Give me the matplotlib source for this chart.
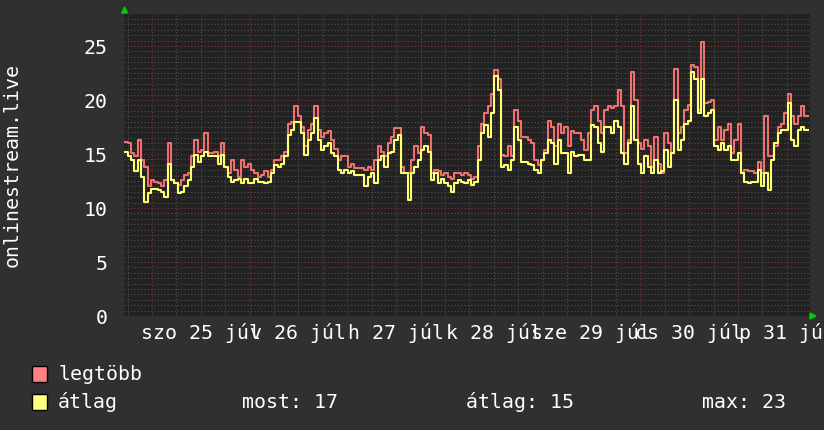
import numpy as np
import matplotlib
matplotlib.use("Agg")
import matplotlib.pyplot as plt
from matplotlib.patches import Rectangle

# samples every ~49 minutes, first one at about 17:15 on jul 24 (hours from jul 25 00:00)
t0_hours = -6.76
step_hours = 0.819

legtobb = [
    16.1, 16.0, 15.1, 14.8, 16.3, 14.4, 13.8, 12.0, 12.6, 12.4, 12.3, 12.0, 12.6, 16.0, 12.6, 12.3,
    12.1, 12.6, 13.1, 13.2, 14.8, 16.3, 15.2, 15.4, 16.9, 15.1, 15.1, 15.2, 14.8, 16.0, 13.8, 13.2,
    14.4, 13.5, 12.9, 14.4, 13.8, 14.1, 13.5, 13.2, 12.9, 13.1, 13.4, 12.9, 13.5, 14.4, 14.4, 14.8,
    15.2, 17.8, 18.0, 19.4, 18.5, 17.5, 15.7, 17.2, 17.8, 19.4, 17.2, 16.6, 16.9, 17.1, 16.3, 15.5,
    14.4, 14.8, 14.8, 13.8, 14.1, 13.7, 13.7, 13.7, 13.5, 13.8, 13.5, 14.4, 15.7, 15.2, 14.8, 16.0,
    16.6, 17.4, 17.4, 13.8, 13.2, 13.2, 14.4, 15.7, 15.1,
    17.5, 16.9, 16.8, 13.2, 13.5, 13.4, 13.1, 13.2, 12.9, 12.7, 13.2, 13.2, 13.1, 13.2, 13.1, 12.7,
    12.9, 15.7, 17.8, 18.8, 19.4, 20.6, 22.8, 21.9, 14.9, 14.8, 15.7, 14.8, 19.1, 18.1, 16.6, 16.6,
    16.3, 16.0, 14.4, 14.0, 14.4, 15.4, 18.1, 17.5, 15.7, 17.8, 16.9, 17.5, 15.7, 17.1, 16.9, 16.9,
    16.3, 15.4, 16.9, 19.1, 19.4, 18.1, 16.9, 19.1, 19.4, 19.3, 19.4, 20.9, 19.4, 15.1, 16.3, 22.6,
    20.0, 16.0, 15.5, 16.3, 15.7, 13.8, 16.6, 14.1, 13.2, 16.9, 16.0, 15.1, 22.9, 16.9, 17.5, 19.1,
    19.5, 23.2, 23.1, 19.1, 25.4, 19.7, 19.8, 20.0, 16.3, 17.5, 16.3, 17.2, 17.8, 15.1, 16.3, 17.8,
    13.2, 13.5, 13.4, 13.4, 13.2, 14.3, 13.2, 18.5, 14.8, 14.8, 15.7, 17.5, 17.8, 18.8, 20.6, 18.5,
    17.8, 18.5, 19.4, 18.5,
]
atlag = [
    15.2, 14.8, 14.4, 13.4, 14.4, 12.9, 10.6, 11.4, 11.8, 11.8, 11.7, 11.5, 11.0, 14.1, 12.6, 12.3,
    11.4, 11.5, 12.0, 12.6, 13.8, 14.9, 14.3, 14.8, 15.2, 14.8, 14.8, 14.8, 14.1, 14.9, 13.8, 12.9,
    12.4, 12.6, 12.7, 12.3, 12.7, 12.3, 12.3, 12.7, 12.4, 12.4, 12.3, 12.4, 13.2, 14.0, 13.8, 14.1,
    14.8, 16.8, 17.2, 18.0, 18.0, 16.9, 14.9, 16.3, 16.9, 18.3, 16.3, 15.4, 15.7, 16.0, 15.1, 14.8,
    13.5, 13.2, 13.5, 13.2, 13.4, 13.1, 13.1, 13.1, 12.0, 12.9, 13.2, 12.3, 14.4, 14.8, 13.8, 15.1,
    15.2, 16.3, 16.8, 13.2, 13.2, 10.7, 13.2, 13.8, 14.4,
    15.4, 15.7, 15.2, 12.6, 13.2, 12.3, 12.7, 12.3, 12.0, 11.5, 12.3, 12.6, 12.4, 12.3, 12.6, 12.1,
    12.4, 14.4, 16.9, 17.7, 16.6, 18.8, 22.2, 20.9, 13.8, 14.0, 13.5, 14.4, 17.5, 16.3, 14.3, 14.3,
    14.1, 14.0, 13.5, 13.2, 14.4, 15.1, 16.3, 16.0, 14.1, 16.3, 15.1, 15.1, 13.2, 15.2, 14.8, 14.9,
    14.9, 14.4, 14.4, 17.7, 17.5, 16.0, 15.2, 17.5, 17.5, 16.9, 18.1, 17.5, 15.1, 14.1, 16.0, 19.4,
    16.3, 14.1, 13.2, 14.8, 13.8, 13.2, 14.4, 13.2, 13.4, 15.4, 13.8, 15.1, 20.0, 15.4, 16.3, 17.8,
    18.1, 22.6, 21.9, 18.8, 21.9, 18.5, 18.8, 19.1, 15.7, 15.4, 16.0, 15.4, 15.7, 14.4, 14.4, 15.1,
    13.2, 12.4, 12.3, 12.4, 12.4, 13.5, 12.0, 13.2, 11.7, 14.4, 16.0, 16.9, 17.2, 17.2, 19.7, 16.3,
    15.7, 17.2, 17.5, 17.2,
]

day_labels = ["szo 25 júl", "v 26 júl", "h 27 júl", "k 28 júl", "sze 29 júl", "cs 30 júl", "p 31 júl"]
ylabel = "onlinestream.live"
legend_names = ["legtöbb", "átlag"]
stats = ["most: 17", "átlag: 15", "max: 23"]

bg = "#303030"
canvas = "#222222"
fg = "#ffffff"
mono = "DejaVu Sans Mono"
fs = 14.3

W, H = 824, 430
fig = plt.figure(figsize=(W / 100, H / 100), dpi=100, facecolor=bg)
ax = fig.add_axes([124 / W, 1 - 316 / H, (810 - 124) / W, (316 - 14) / H])
ax.set_facecolor(canvas)

x_lo = -28 / 4.069
x_hi = (810 - 152) / 4.069
ax.set_xlim(x_lo, x_hi)
ax.set_ylim(0, 302 / 10.8)

# grid like rrdtool: minor grey dotted, major dark red dotted
for yy in np.arange(0.5, 28, 0.5):
    major = abs(yy / 5 - round(yy / 5)) < 1e-6
    ax.axhline(yy, color="#7a3535" if major else "#505050", lw=0.8,
               ls=(0, (1, 2)), zorder=1)
for xx in np.arange(-6, 162, 6):
    major = xx % 24 == 0
    ax.axvline(xx, color="#7a3535" if major else "#505050", lw=0.8,
               ls=(0, (1, 2)), zorder=1)

t = t0_hours + step_hours * np.arange(len(legtobb) + 1)
ax.plot(t, legtobb + legtobb[-1:], drawstyle="steps-post", color="#f07070", lw=1.5, zorder=3)
ax.plot(t, atlag + atlag[-1:], drawstyle="steps-post", color="#ffff70", lw=1.5, zorder=4)

for s in ax.spines.values():
    s.set_visible(False)
ax.tick_params(length=0, colors=fg)
ax.set_yticks([0, 5, 10, 15, 20, 25])
ax.set_yticklabels(["0", "5", "10", "15", "20", "25"], fontfamily=mono, fontsize=fs, color=fg)
ax.tick_params(axis="y", pad=12)
ax.set_xticks([12 + 24 * i for i in range(len(day_labels))])
ax.set_xticklabels(day_labels, fontfamily=mono, fontsize=fs, color=fg)
ax.tick_params(axis="x", pad=5)

fig.text(12 / W, 1 - 165 / H, ylabel, rotation=90, ha="center", va="center",
         fontfamily=mono, fontsize=fs, color=fg)

# little green arrows at the axis ends
fig.patches.append(plt.Polygon([[121.5 / W, 1 - 13 / H], [127.5 / W, 1 - 13 / H], [124.5 / W, 1 - 7 / H]],
                               closed=True, transform=fig.transFigure, color="#00cc00"))
fig.patches.append(plt.Polygon([[810 / W, 1 - 313 / H], [810 / W, 1 - 319 / H], [816 / W, 1 - 316 / H]],
                               closed=True, transform=fig.transFigure, color="#00cc00"))

# legend
for i, (name, col) in enumerate(zip(legend_names, ["#ff8080", "#ffff80"])):
    yc = 374 + 28 * i
    fig.patches.append(Rectangle((32 / W, 1 - (yc + 8) / H), 15 / W, 16 / H,
                                 transform=fig.transFigure, facecolor=col,
                                 edgecolor="black", lw=1))
    fig.text(58 / W, 1 - yc / H, name, ha="left", va="center",
             fontfamily=mono, fontsize=fs, color=fg)
for x0, s in zip([242, 466, 702], stats):
    fig.text(x0 / W, 1 - 402 / H, s, ha="left", va="center",
             fontfamily=mono, fontsize=fs, color=fg)

fig.savefig("out.png", dpi=100, facecolor=bg)
